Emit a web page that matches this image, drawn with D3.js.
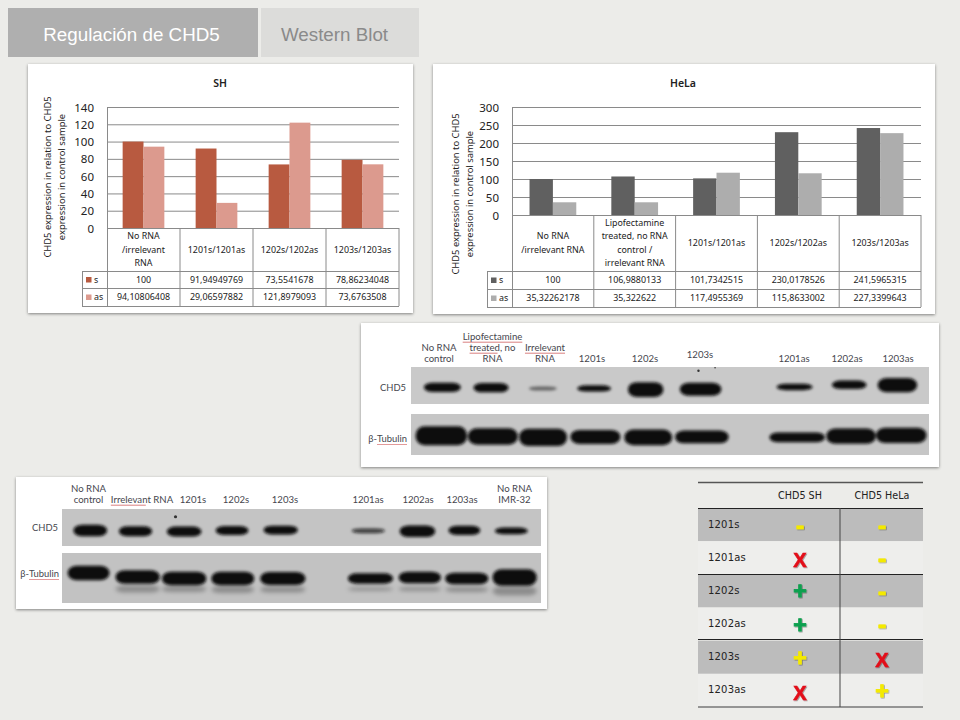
<!DOCTYPE html>
<html><head><meta charset="utf-8">
<script src="https://cdn.jsdelivr.net/npm/d3@7"></script>
<style>
html,body{margin:0;padding:0;background:#ecece9;}
svg{display:block;}
text{font-family:"Noto Sans",sans-serif;fill:#222;}
.tab{font-family:"Liberation Sans",sans-serif;}
.blot text{fill:#46464e;font-family:"Lato","Noto Sans",sans-serif;}
</style></head><body>
<svg id="c" width="960" height="720"></svg>
<script>
// ---------- DATA ----------
const seriesNames = ["s","as"];
const shCategories = [["No RNA","/irrelevant","RNA"],["1201s/1201as"],["1202s/1202as"],["1203s/1203as"]];
const shS  = [100,91.94949769,73.5541678,78.86234048];
const shAs = [94.10806408,29.06597882,121.8979093,73.6763508];
const shTicks = [0,20,40,60,80,100,120,140];
const helaCategories = [["No RNA","/irrelevant RNA"],["Lipofectamine","treated, no RNA","control /","irrelevant RNA"],["1201s/1201as"],["1202s/1202as"],["1203s/1203as"]];
const helaS  = [100,106.9880133,101.7342515,230.0178526,241.5965315];
const helaAs = [35.32262178,35.322622,117.4955369,115.8633002,227.3399643];
const helaTicks = [0,50,100,150,200,250,300];
const yLabelLines = ["CHD5 expression in relation to CHD5","expression in control sample"];
const tabs = ["Regulación de CHD5","Western Blot"];

// Western blots: band start/end along the membrane (%), centre and thickness across it (%), darkness (0-1)
const blotAChdStart = [2.5,12.1,22.8,32.1,41.9,51.9,70.6,81.3,90.1];
const blotAChdEnd   = [9.6,18.8,28.1,38.6,48.7,59.9,77.5,87.9,97.7];
const blotAChdMid   = [55,56,58,58,61,60,54,48,49];
const blotAChdThick = [25,25,11,17,40,35,17,23,38];
const blotAChdDark  = [1,1,.5,1,1,1,1,1,1];
const blotATubStart = [.9,11,20.9,30.8,41.2,51,69.2,80.2,89.8];
const blotATubEnd   = [10.8,20.6,30.1,40.4,50.4,61.3,79.9,89.7,99.5];
const blotATubMid   = [53,55,57,56,57,56,57,54,52];
const blotATubThick = [46,40,42,34,38,31,24,37,37];
const blotATubDark  = [1,1,1,1,1,1,1,1,1];
const blotBChdStart = [2.4,11.9,21.9,32.1,42.1,60.5,70.5,80.7,90.4];
const blotBChdEnd   = [9.4,18.8,29.1,38.9,49.2,67.4,77.9,87.3,97.2];
const blotBChdMid   = [58,60,61,58,57,59,60,58,59];
const blotBChdThick = [31,27,27,24,24,13,31,25,18];
const blotBChdDark  = [1,1,1,1,1,.75,1,1,1];
const blotBTubStart = [1.2,11.2,20.9,31.2,41.4,59.7,70.3,80,89.9];
const blotBTubEnd   = [9.9,20.4,30.1,40.1,50.8,69.1,79.1,89,99.1];
const blotBTubMid   = [40,48,51,51,51,51,49,51,49];
const blotBTubThick = [29,27,27,27,26,21,23,23,33];
const blotBTubDark  = [1,1,1,1,1,1,1,1,1];
const blotBSmearMid   = [71,72,72,73,73,72,72,73,76];
const blotBSmearThick = [0,14,12,14,12,7,8,10,18];

// Summary table
const sumRows = ["1201s","1201as","1202s","1202as","1203s","1203as"];
const sumCols = ["CHD5 SH","CHD5 HeLa"];
const sumSH   = ["-","X","+","+","+","X"];
const sumHeLa = ["-","-","-","-","X","+"];
const sumSHLevel   = ["low","bad","good","good","low","bad"];
const sumHeLaLevel = ["low","low","low","low","bad","low"];

// ---------- DRAW ----------
const svg = d3.select("#c");
const defs = svg.append("defs");
const blurF=(id,s)=>defs.append("filter").attr("id",id).attr("x","-30%").attr("y","-60%").attr("width","160%").attr("height","220%")
   .append("feGaussianBlur").attr("stdDeviation",s);
blurF("b1",1.6); blurF("b2",2.2); blurF("b0",.35);
const sh = defs.append("filter").attr("id","panelShadow").attr("x","-5%").attr("y","-5%").attr("width","110%").attr("height","110%");
sh.append("feDropShadow").attr("dx",0).attr("dy",1).attr("stdDeviation",1.6).attr("flood-color","#000").attr("flood-opacity",.45);
const ms = defs.append("filter").attr("id","markShadow").attr("x","-40%").attr("y","-40%").attr("width","180%").attr("height","180%");
ms.append("feDropShadow").attr("dx",.8).attr("dy",.8).attr("stdDeviation",.6).attr("flood-color","#000").attr("flood-opacity",.4);

// tabs
const tabX = d3.scaleOrdinal().domain(tabs).range([8,261]);
const tabW = d3.scaleOrdinal().domain(tabs).range([250,158]);
const tabTextX = d3.scaleOrdinal().domain(tabs).range([131.5,334.5]);
const tabFill = d3.scaleOrdinal().domain(tabs).range(["#afafaf","#dcdcda"]);
const tabInk = d3.scaleOrdinal().domain(tabs).range(["#fff","#8a8a8a"]);
tabs.forEach(t=>{
  svg.append("rect").attr("x",tabX(t)).attr("y",8).attr("width",tabW(t)).attr("height",49).attr("fill",tabFill(t));
  svg.append("text").attr("class","tab").attr("x",tabTextX(t)).attr("y",41).attr("text-anchor","middle")
    .style("font-size","18.8px").style("fill",tabInk(t)).text(t);
});

function panel(g,x,y,w,h){
  g.append("rect").attr("x",x).attr("y",y).attr("width",w).attr("height",h).attr("fill","#fff").attr("filter","url(#panelShadow)");
}

function barChart(o){
  const g = svg.append("g");
  panel(g,o.px,64,o.pw,o.ph);
  const keys = o.cats.map((c,i)=>i);
  const x = d3.scaleBand().domain(keys).range([o.x0,o.x1]);
  const inner = d3.scaleBand().domain(seriesNames).range([0,x.bandwidth()]).paddingInner(0).paddingOuter(.75);
  const y = d3.scaleLinear().domain([0,o.ticks[o.ticks.length-1]]).range([o.y0,107]);
  const ink="#8a8a8a";
  // grid
  g.append("g").selectAll("line").data(o.ticks).join("line")
    .attr("x1",o.x0).attr("x2",o.x1).attr("y1",d=>y(d)+.5).attr("y2",d=>y(d)+.5).attr("stroke",ink).attr("stroke-width",1);
  // bars
  seriesNames.forEach((s,si)=>{
    const vals = si===0?o.s:o.as;
    g.append("g").selectAll("rect").data(vals).join("rect")
      .attr("x",(d,i)=>x(i)+inner(s)).attr("width",inner.bandwidth())
      .attr("y",d=>y(d)).attr("height",d=>o.y0-y(d)).attr("fill",o.colors[si]);
  });
  // axis
  const ax = g.append("g").attr("transform",`translate(${o.x0},0)`)
    .call(d3.axisLeft(y).tickValues(o.ticks).tickSize(0).tickPadding(13));
  ax.select(".domain").attr("stroke",ink);
  ax.selectAll("text").style("font-size","11.5px").style("font-family",'"Noto Sans",sans-serif').style("fill","#222").attr("dy","0.36em");
  // data table
  const L=(x1,y1,x2,y2)=>g.append("line").attr("x1",x1).attr("y1",y1).attr("x2",x2).attr("y2",y2).attr("stroke",ink);
  const ry=o.rows;
  L(o.x0+.5,o.y0,o.x0+.5,ry[2]);
  keys.forEach(k=>L(x(k)+x.bandwidth(),o.y0,x(k)+x.bandwidth(),ry[2]));
  L(o.legX+.5,ry[0],o.legX+.5,ry[2]);
  L(o.x0,o.y0+.5,o.x1,o.y0+.5);
  L(o.legX,ry[0]+.5,o.x1,ry[0]+.5);
  L(o.legX,ry[1]+.5,o.x1,ry[1]+.5);
  L(o.legX,ry[2]+.5,o.x1,ry[2]+.5);
  const lh=13.5;
  o.cats.forEach((lines,i)=>{
    const cy=(o.y0+ry[0])/2;
    lines.forEach((t,j)=>g.append("text").attr("x",x(i)+x.bandwidth()/2)
      .attr("y",cy+(j-(lines.length-1)/2)*lh+3.2).attr("text-anchor","middle").style("font-size","8.9px").text(t));
  });
  seriesNames.forEach((s,si)=>{
    const top=ry[si], bot=ry[si+1], cy=(top+bot)/2, vals=si===0?o.s:o.as;
    g.append("rect").attr("x",o.legX+4).attr("y",cy-2.5).attr("width",5.5).attr("height",5.5).attr("fill",o.colors[si]);
    g.append("text").attr("x",o.legX+12).attr("y",cy+3.2).style("font-size","8.9px").text(s);
    vals.forEach((v,i)=>g.append("text").attr("x",x(i)+x.bandwidth()/2).attr("y",cy+3.2)
      .attr("text-anchor","middle").style("font-size","8.9px").text(String(v).replace(".",",")));
  });
  // titles
  g.append("text").attr("x",o.titleX).attr("y",87).attr("text-anchor","middle").style("font-size","10.5px").style("font-weight",600).text(o.title);
  yLabelLines.forEach((t,i)=>g.append("text")
    .attr("transform",`translate(${o.ylabX+i*14},${o.ylabY}) rotate(-90)`).attr("text-anchor","middle")
    .style("font-size","9.4px").text(t));
}
barChart({title:"SH",titleX:220,px:28,pw:385,ph:249,x0:107,x1:399,y0:228,rows:[271,288,306],legX:82,
  cats:shCategories,s:shS,as:shAs,ticks:shTicks,colors:["#b85a40","#dc9a8e"],ylabX:51,ylabY:177});
barChart({title:"HeLa",titleX:683,px:433,pw:502,ph:250,x0:512,x1:921,y0:215,rows:[271,289,307],legX:487,
  cats:helaCategories,s:helaS,as:helaAs,ticks:helaTicks,colors:["#606060","#adadad"],ylabX:459,ylabY:194});

// western blots
function lane(g,x,y,starts,ends,mids,thicks,dark,blur){
  g.append("g").attr("filter",`url(#${blur})`).selectAll("rect").data(starts).join("rect")
    .attr("x",(d)=>x(d)).attr("width",(d,i)=>x(ends[i])-x(d))
    .attr("y",(d,i)=>y(mids[i]-thicks[i]/2)).attr("height",(d,i)=>y(mids[i]+thicks[i]/2)-y(mids[i]-thicks[i]/2))
    .attr("rx",9).attr("ry",(d,i)=>(y(mids[i]+thicks[i]/2)-y(mids[i]-thicks[i]/2))*.45)
    .attr("fill","#0c0c0c").attr("opacity",(d,i)=>dark[i]);
}
function blot(o){
  const g = svg.append("g").attr("class","blot");
  panel(g,o.px,o.py,o.pw,o.ph);
  const x = d3.scaleLinear().domain([0,100]).range([o.mx0,o.mx1]);
  o.tracks.forEach(t=>{
    const y = d3.scaleLinear().domain([0,100]).range([t.y0,t.y1]);
    g.append("rect").attr("x",o.mx0).attr("y",t.y0).attr("width",o.mx1-o.mx0).attr("height",t.y1-t.y0).attr("fill",t.fill);
    lane(g,x,y,t.start,t.end,t.mid,t.thick,t.dark,"b1");
    if(t.smear) lane(g,x,y,t.start,t.end,t.smear,t.smearT,t.start.map(()=>.28),"b2");
    if(t.spots) g.append("g").attr("filter","url(#b0)").selectAll("circle").data(t.spots).join("circle")
       .attr("cx",d=>x(d[0])).attr("cy",d=>y(d[1])).attr("r",d=>d[2]).attr("fill","#333");
    g.append("text").attr("x",t.labX).attr("y",t.labY).attr("text-anchor","end").style("font-size","9.4px").text(t.label);
    if(t.squiggle) g.append("line").attr("x1",t.labX-30).attr("x2",t.labX).attr("y1",t.labY+2.5).attr("y2",t.labY+2.5).attr("stroke","#d98080").attr("stroke-width",.8);
  });
  o.labels.forEach(l=>{
    const n=l.lines.length;
    l.lines.forEach((t,j)=>{
      const ty=l.y-(n-1-j)*11+3.2;
      const tx=g.append("text").attr("x",l.x).attr("y",ty).attr("text-anchor","middle").style("font-size","9.6px").text(t);
      if(l.under&&l.under.includes(j)){
        const len=tx.node().getComputedTextLength();
        const uw=(l.underW&&l.underW[j])||len;
        g.append("line").attr("x1",l.x-len/2).attr("x2",l.x-len/2+uw).attr("y1",ty+2).attr("y2",ty+2).attr("stroke","#d06060").attr("stroke-width",.8);
      }
    });
  });
}
blot({px:361,py:323,pw:578,ph:144,mx0:411,mx1:929,
  tracks:[
   {y0:367,y1:404,fill:"#c9c9c9",start:blotAChdStart,end:blotAChdEnd,mid:blotAChdMid,thick:blotAChdThick,dark:blotAChdDark,spots:[[55.5,10,1.2],[58.7,2,.8]],label:"CHD5",labX:406,labY:391},
   {y0:414,y1:455,fill:"#c6c6c6",start:blotATubStart,end:blotATubEnd,mid:blotATubMid,thick:blotATubThick,dark:blotATubDark,label:"β-Tubulin",labX:407,labY:442,squiggle:true}
  ],
  labels:[
   {x:439,y:359,lines:["No RNA","control"]},
   {x:492.5,y:359,lines:["Lipofectamine","treated, no","RNA"],under:[0,1],underW:{1:28}},
   {x:545,y:359,lines:["Irrelevant","RNA"],under:[0]},
   {x:592,y:359,lines:["1201s"]},{x:645,y:359,lines:["1202s"]},{x:700,y:355,lines:["1203s"]},
   {x:794,y:359,lines:["1201as"]},{x:847,y:359,lines:["1202as"]},{x:898,y:359,lines:["1203as"]}
  ]});
blot({px:16,py:477,pw:531,ph:132,mx0:62,mx1:541,
  tracks:[
   {y0:509,y1:546,fill:"#c4c4c4",start:blotBChdStart,end:blotBChdEnd,mid:blotBChdMid,thick:blotBChdThick,dark:blotBChdDark,spots:[[23.7,21,1.6]],label:"CHD5",labX:58,labY:531},
   {y0:553,y1:603,fill:"#c2c2c2",start:blotBTubStart,end:blotBTubEnd,mid:blotBTubMid,thick:blotBTubThick,dark:blotBTubDark,smear:blotBSmearMid,smearT:blotBSmearThick,label:"β-Tubulin",labX:59,labY:577,squiggle:true}
  ],
  labels:[
   {x:88.5,y:500,lines:["No RNA","control"]},
   {x:142,y:500,lines:["Irrelevant RNA"],under:[0],underW:{0:35}},
   {x:193,y:500,lines:["1201s"]},{x:236,y:500,lines:["1202s"]},{x:285,y:500,lines:["1203s"]},
   {x:368,y:500,lines:["1201as"]},{x:418,y:500,lines:["1202as"]},{x:462,y:500,lines:["1203as"]},
   {x:514.5,y:500,lines:["No RNA","IMR-32"]}
  ]});

// summary table
(function(){
  const g=svg.append("g");
  const x0=698,x1=923;
  const y=d3.scaleBand().domain(sumRows).range([508,707]);
  const col=d3.scaleOrdinal().domain(sumCols).range([800,882]);
  const markColor=d3.scaleOrdinal().domain(["low","bad","good"]).range(["#f4ea00","#e30f1a","#10a050"]);
  sumRows.forEach((r,i)=>{
    g.append("rect").attr("x",x0).attr("y",y(r)).attr("width",x1-x0).attr("height",y.bandwidth())
      .attr("fill",i%2?"#eeeeec":"#bcbcbc");
    g.append("text").attr("x",708).attr("y",y(r)+y.bandwidth()/2+3).style("font-size","10px").style("font-family","'DejaVu Sans'").style("letter-spacing",".2px").text(r);
  });
  const H=(yy,w,c)=>g.append("line").attr("x1",x0).attr("x2",x1).attr("y1",yy).attr("y2",yy).attr("stroke",c).attr("stroke-width",w);
  H(482.5,1.5,"#555"); H(508.5,1,"#222"); H(574.5,1,"#222"); H(639.5,1,"#222"); H(707,1.5,"#777");
  g.append("line").attr("x1",840).attr("x2",840).attr("y1",508).attr("y2",707).attr("stroke","#444").attr("stroke-width",1);
  sumCols.forEach(c=>g.append("text").attr("x",col(c)).attr("y",499).attr("text-anchor","middle")
     .style("font-size","9.6px").style("font-weight",500).style("font-family","'DejaVu Sans'").text(c));
  const markLift={"-":7,"X":7.5,"+":6.5};
  const marks=(vals,levels,c)=>{
    g.append("g").attr("filter","url(#markShadow)").selectAll("text").data(vals).join("text")
      .attr("x",col(c)).attr("y",(d,i)=>y(sumRows[i])+y.bandwidth()/2+2+markLift[d])
      .attr("text-anchor","middle")
      .style("font-family","'Liberation Sans',sans-serif").style("font-weight",700)
      .style("font-size",d=>d==="-"?"26px":(d==="X"?"20px":"23px"))
      .style("fill",(d,i)=>markColor(levels[i])).attr("stroke",(d,i)=>markColor(levels[i])).attr("stroke-width",d=>d==="+"?.9:.6)
      .text(d=>d);
  };
  marks(sumSH,sumSHLevel,sumCols[0]);
  marks(sumHeLa,sumHeLaLevel,sumCols[1]);
})();
</script>
</body></html>
